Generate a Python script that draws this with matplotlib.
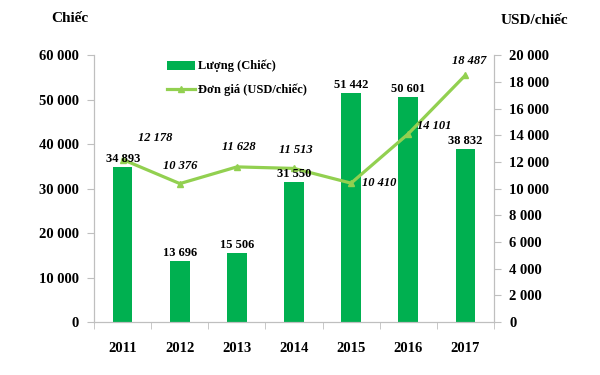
import matplotlib.pyplot as plt
import numpy as np
from matplotlib.ticker import FuncFormatter, FixedLocator

years = ["2011", "2012", "2013", "2014", "2015", "2016", "2017"]
luong = [34893, 13696, 15506, 31550, 51442, 50601, 38832]
don_gia = [12178, 10376, 11628, 11513, 10410, 14101, 18487]
# offset of each price label from its point, in pixels
gia_offsets = [(32, 22), (0, 18), (2, 20), (2, 18), (28, 0), (26, 8), (4, 14)]

BAR_C = "#00B050"
LINE_C = "#92D050"
plt.rcParams["font.family"] = ["Liberation Serif", "DejaVu Serif"]
plt.rcParams["font.weight"] = "bold"

def sp(v, pos=None):
    return f"{int(v):,}".replace(",", " ")

fig = plt.figure(figsize=(6, 3.75), dpi=100)
ax = fig.add_axes([0.157, 0.141, 0.666, 0.712])
ax2 = ax.twinx()

x = np.arange(len(years))
ax.bar(x, luong, width=0.34, color=BAR_C, label="Lượng (Chiếc)", zorder=2)
ax2.plot(x, don_gia, color=LINE_C, lw=2.3, marker="^", ms=4,
         markerfacecolor=LINE_C, label="Đơn giá (USD/chiếc)", zorder=3)

ax.set_xlim(-0.5, len(years) - 0.5)
ax.set_ylim(0, 60000)
ax2.set_ylim(0, 20000)
ax.set_yticks(range(0, 60001, 10000))
ax2.set_yticks(range(0, 20001, 2000))
ax.yaxis.set_major_formatter(FuncFormatter(sp))
ax2.yaxis.set_major_formatter(FuncFormatter(sp))
ax.set_xticks(x)
ax.set_xticklabels(years)
ax.xaxis.set_minor_locator(FixedLocator(np.arange(-0.5, len(years), 1.0)))
ax.tick_params(axis="x", which="major", length=0, pad=14, labelsize=10.5)
ax.tick_params(axis="x", which="minor", length=5, color="#BFBFBF")
ax.tick_params(axis="y", length=5, color="#BFBFBF", labelsize=10.5, pad=6)
ax2.tick_params(axis="y", length=5, color="#BFBFBF", labelsize=10.5, pad=6)

for a in (ax, ax2):
    a.spines["top"].set_visible(False)
    for s in ("left", "right", "bottom"):
        a.spines[s].set_color("#BFBFBF")

# bar labels drawn on ax2 so they sit above the price line
for xi, v in zip(x, luong):
    ax2.annotate(sp(v), (xi, v), xycoords=ax.transData, xytext=(0, 2),
                 textcoords="offset pixels", ha="center", va="bottom",
                 fontsize=9, zorder=5)
for xi, v, off in zip(x, don_gia, gia_offsets):
    ax2.annotate(sp(v), (xi, v), xytext=off, textcoords="offset pixels",
                 ha="center", va="center", fontsize=9, style="italic")

fig.text(0.085, 0.95, "Chiếc", fontsize=11, ha="left", va="center")
fig.text(0.835, 0.945, "USD/chiếc", fontsize=11, ha="left", va="center")

h1, l1 = ax.get_legend_handles_labels()
h2, l2 = ax2.get_legend_handles_labels()
ax.legend(h1 + h2, l1 + l2, loc="upper left", bbox_to_anchor=(0.26, 0.87),
          bbox_transform=fig.transFigure, frameon=False, fontsize=9,
          handlelength=2.2, handletextpad=0.3, labelspacing=0.9)

fig.savefig("out.png", dpi=100)
